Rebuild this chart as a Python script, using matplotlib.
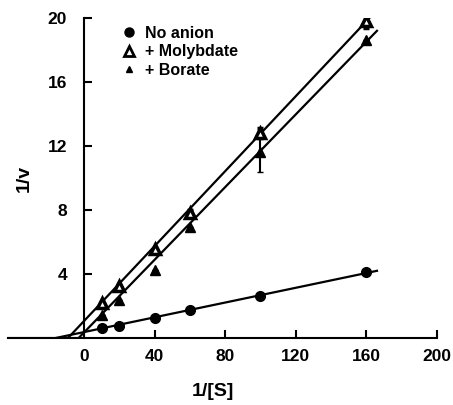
import matplotlib.pyplot as plt
from matplotlib.lines import Line2D

plt.rcParams['font.family'] = ['Liberation Sans', 'DejaVu Sans']
plt.rcParams['font.weight'] = 'bold'

# Data (1/[S] vs 1/v)
inv_s = [10, 20, 40, 60, 100, 160]
no_anion = [0.6, 0.75, 1.25, 1.75, 2.6, 4.1]
molybdate = [2.2, 3.25, 5.55, 7.8, 12.8, 19.8]
molybdate_err = [0, 0, 0, 0.2, 0.3, 0.4]
borate = [1.45, 2.4, 4.25, 6.95, 11.6, 18.6]
borate_err = [0, 0, 0, 0, 1.25, 0]

# Fitted lines (end points)
fit_x_no_anion = [-16, 166]
fit_y_no_anion = [0, 4.2]
fit_x_molybdate = [-9, 166]
fit_y_molybdate = [0, 20.5]
fit_x_borate = [-3, 166]
fit_y_borate = [0, 19.2]

fig = plt.figure(figsize=(4.53, 4.05), dpi=100)
ax = fig.add_axes([8 / 453, 67 / 405, 429 / 453, 320 / 405])

# x axis tail that runs into the negative region
ax.plot([-43, 0], [0, 0], color='k', lw=1.5)

ax.plot(fit_x_no_anion, fit_y_no_anion, color='k', lw=1.6)
ax.plot(fit_x_molybdate, fit_y_molybdate, color='k', lw=1.6)
ax.plot(fit_x_borate, fit_y_borate, color='k', lw=1.6)

ax.plot(inv_s, no_anion, 'o', color='k', ms=7)
ax.errorbar(inv_s, molybdate, yerr=molybdate_err, fmt='^', color='k',
            mfc='white', mec='k', mew=2.5, ms=7, capsize=2, elinewidth=1.5)
ax.errorbar(inv_s, borate, yerr=borate_err, fmt='^', color='k',
            ms=7, capsize=2, elinewidth=1.5)

ax.set_xlim(-43, 200)
ax.set_ylim(0, 20)
ax.spines['left'].set_position(('data', 0))
ax.spines['bottom'].set_position(('data', 0))
ax.spines['right'].set_visible(False)
ax.spines['top'].set_visible(False)
ax.spines['left'].set_linewidth(1.5)
ax.spines['bottom'].set_linewidth(1.5)
ax.spines['bottom'].set_bounds(-43, 200)
ax.set_xticks([0, 40, 80, 120, 160, 200])
ax.set_yticks([4, 8, 12, 16, 20])
ax.tick_params(direction='in', length=6, width=1.5, labelsize=12.5)
ax.tick_params(axis='y', pad=12)
ax.tick_params(axis='x', pad=8)

ax.set_xlabel('1/[S]', fontsize=14, fontweight='bold')
ax.set_ylabel('1/v', fontsize=14, fontweight='bold')
ax.xaxis.set_label_coords(0.478, -0.14)
ax.yaxis.set_label_coords(0.058, 0.5)

handles = [
    Line2D([], [], marker='o', ls='', color='k', ms=6.5),
    Line2D([], [], marker='^', ls='', mfc='white', mec='k', mew=2, ms=6.5),
    Line2D([], [], marker='^', ls='', color='k', ms=5),
]
ax.legend(handles, ['No anion', '+ Molybdate', '+ Borate'], loc='upper left',
          bbox_to_anchor=(0.23, 1.02), frameon=False, fontsize=11.5,
          handletextpad=0.5, labelspacing=0.22, handlelength=1.0)

fig.savefig('out.png', dpi=100)
